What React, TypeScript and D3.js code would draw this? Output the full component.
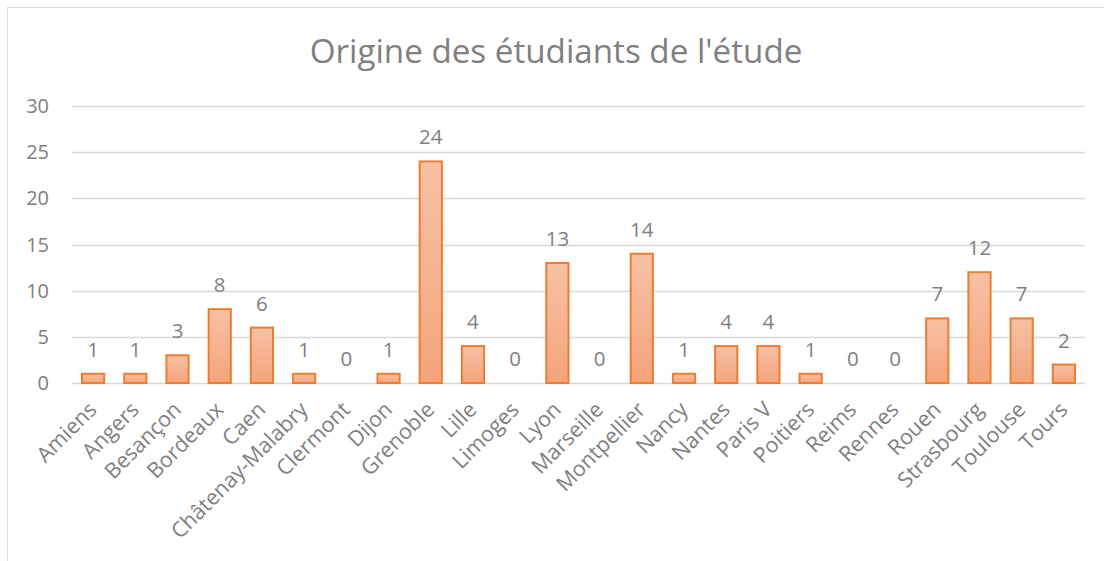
import React from "react";
import * as d3 from "d3";

const categories = ["Amiens","Angers","Besançon","Bordeaux","Caen","Châtenay-Malabry","Clermont","Dijon","Grenoble","Lille","Limoges","Lyon","Marseille","Montpellier","Nancy","Nantes","Paris V","Poitiers","Reims","Rennes","Rouen","Strasbourg","Toulouse","Tours"];
const values = [1,1,3,8,6,1,0,1,24,4,0,13,0,14,1,4,4,1,0,0,7,12,7,2];
const yTicks = [0,5,10,15,20,25,30];
const title = "Origine des étudiants de l'étude";

const W = 1104, H = 561;
const plot = { left: 72, right: 1085, top: 106, bottom: 383 };
const font = "'Open Sans', sans-serif";
const grey = "#808080";

export default function App() {
  const x = d3.scaleBand<string>().domain(categories).range([plot.left, plot.right]).paddingInner(0.474).paddingOuter(0.237);
  const y = d3.scaleLinear().domain([0, 30]).range([plot.bottom, plot.top]);
  return (
    <svg width={W} height={H} style={{ position: "absolute", left: 0, top: 0 }}>
      <defs>
        <linearGradient id="barg" x1="0" y1="0" x2="0" y2="1">
          <stop offset="0" stopColor="#f7c1a4" />
          <stop offset="1" stopColor="#f4a47c" />
        </linearGradient>
      </defs>
      <rect x={0} y={0} width={W} height={H} fill="#fff" />
      <rect x={7.5} y={7.5} width={W + 10} height={H + 10} fill="none" stroke="#d9d9d9" />
      <text x={556} y={63} textAnchor="middle" fontFamily={font} fontSize={33.2} fill={grey}>{title}</text>
      {yTicks.map(t => (
        <g key={t}>
          <line x1={plot.left} x2={plot.right} y1={Math.round(y(t)) + 0.5} y2={Math.round(y(t)) + 0.5} stroke="#d9d9d9" strokeWidth={1.3} />
          <text x={49} y={y(t) + 7} textAnchor="end" fontFamily={font} fontSize={20} fill={grey}>{t}</text>
        </g>
      ))}
      {categories.map((c, i) => {
        const bx = x(c)!;
        const bw = x.bandwidth();
        const cx = bx + bw / 2;
        const v = values[i];
        return (
          <g key={c}>
            {v > 0 && (
              <rect x={bx} y={y(v)} width={bw} height={y(0) - y(v)} fill="url(#barg)" stroke="#ed7d31" strokeWidth={2} />
            )}
            <text x={cx} y={y(v) - 17} textAnchor="middle" fontFamily={font} fontSize={20.5} fill={grey}>{v}</text>
            <text transform={`translate(${cx + 5},${plot.bottom + 28}) rotate(-45)`} textAnchor="end" fontFamily={font} fontSize={21.5} fill={grey}>{c}</text>
          </g>
        );
      })}
    </svg>
  );
}
